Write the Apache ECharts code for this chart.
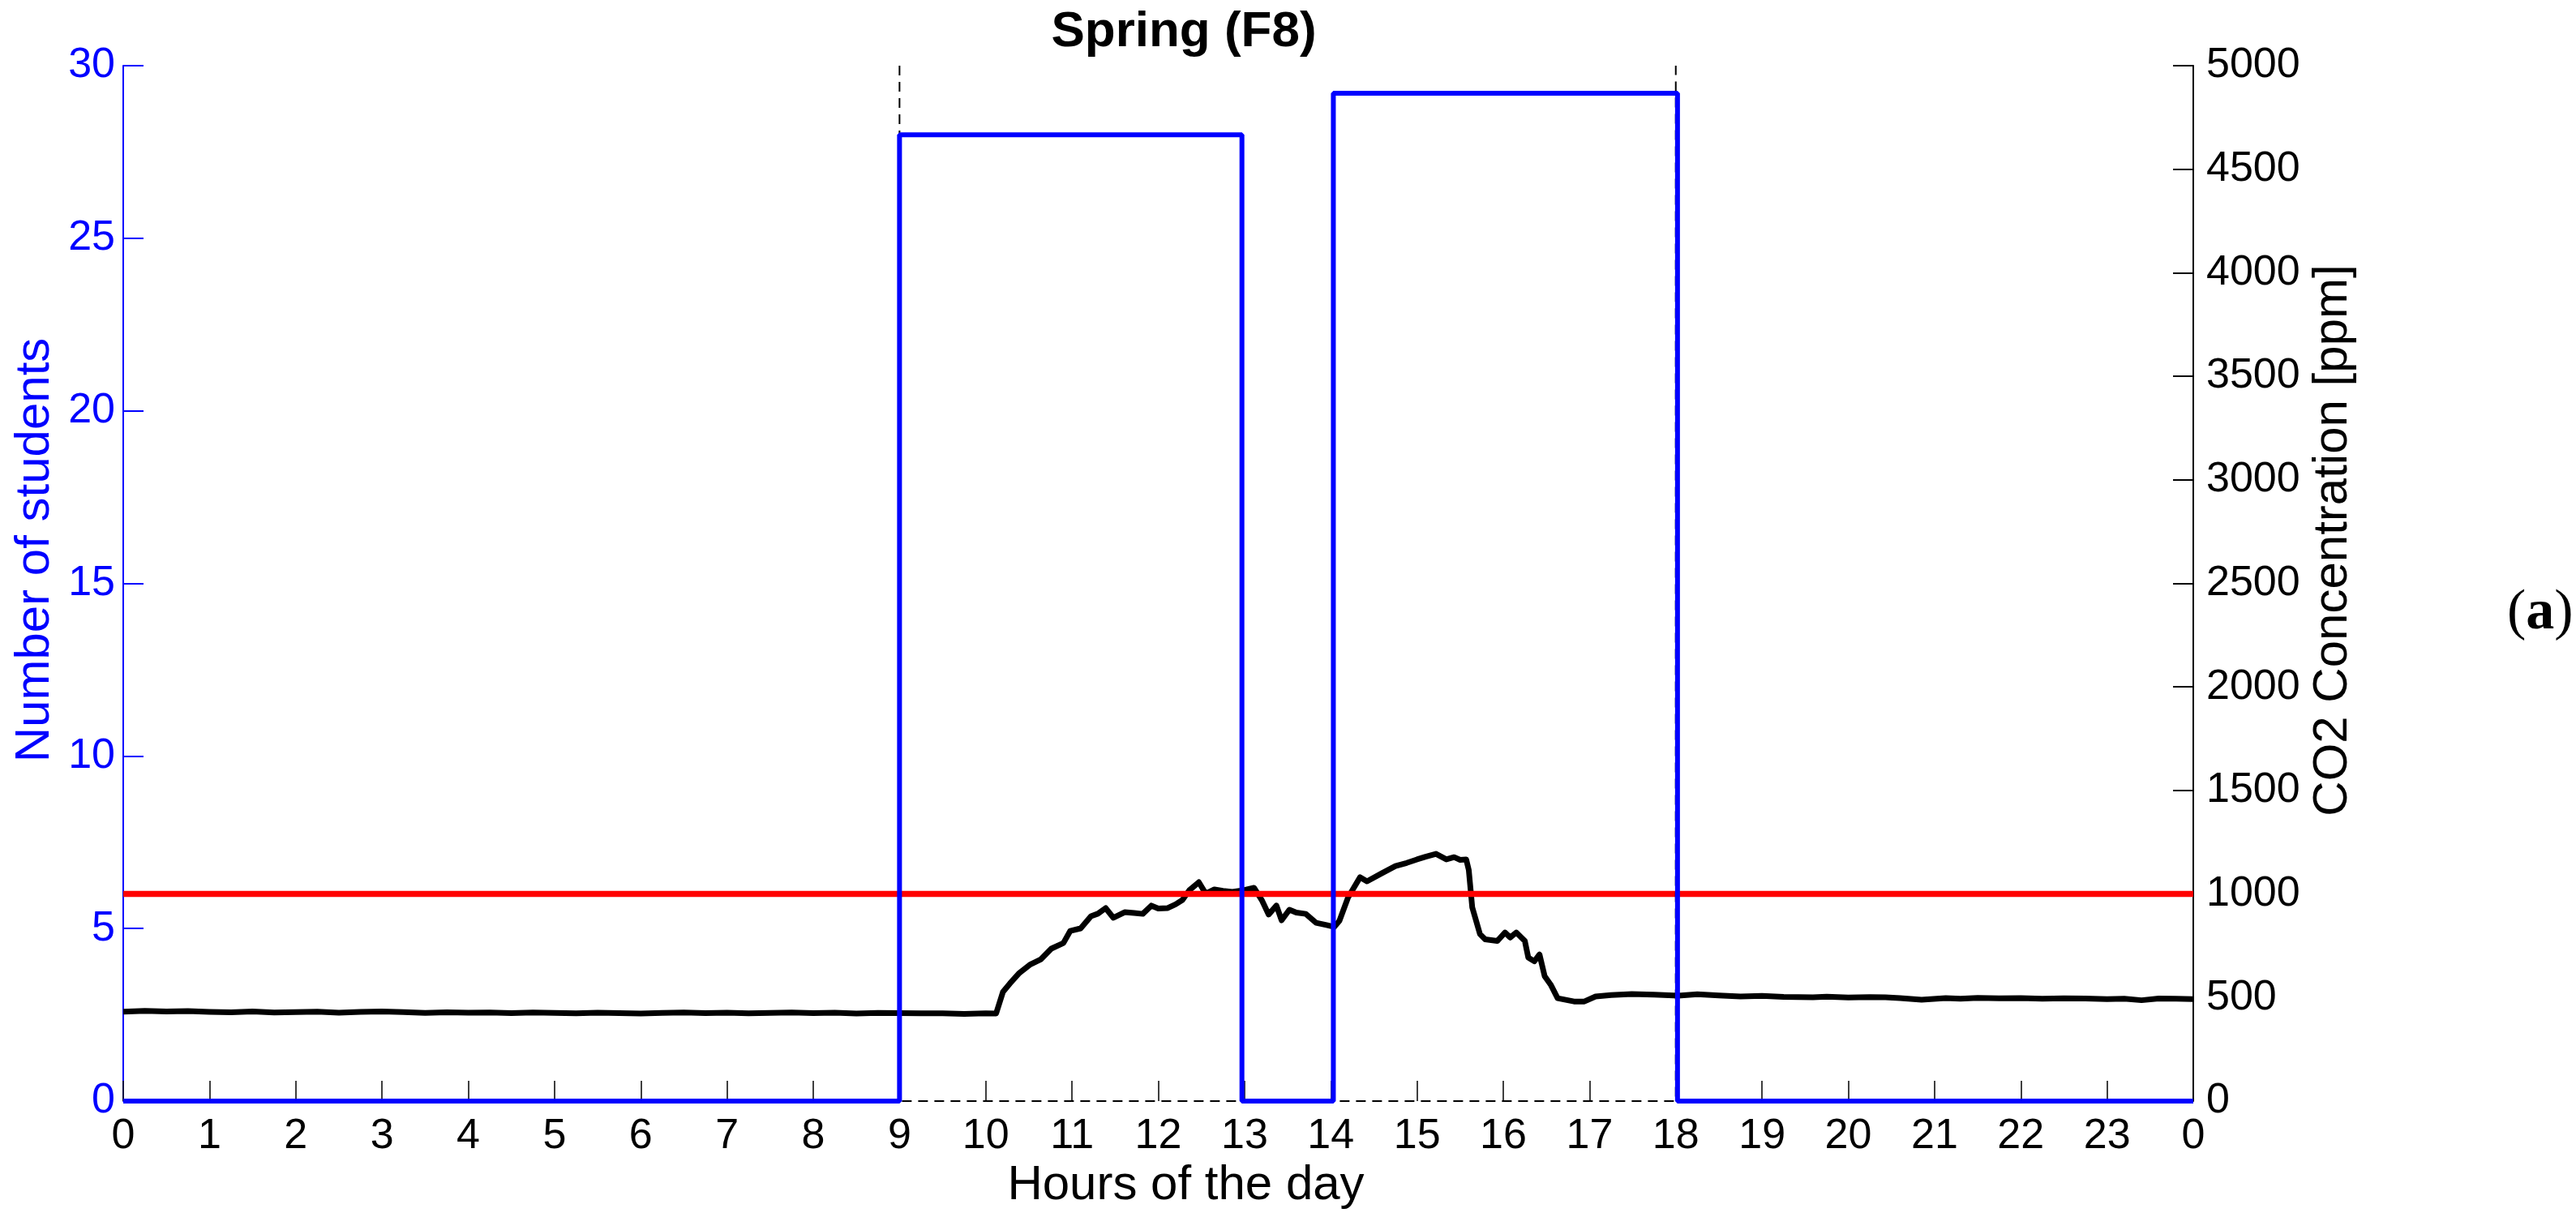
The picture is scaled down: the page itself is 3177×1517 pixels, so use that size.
<!DOCTYPE html>
<html>
<head>
<meta charset="utf-8">
<script src="https://cdn.jsdelivr.net/npm/echarts@6/dist/echarts.min.js"></script>
<style>
  html, body { margin: 0; padding: 0; background: #fff; }
  #chart { width: 3177px; height: 1517px; }
</style>
</head>
<body>
<div id="chart"></div>
<script>
// CO2 logger trace (hours, ppm)
const co2Hours = [
  0, 0.25, 0.5, 0.75, 1, 1.25, 1.5, 1.75, 2, 2.25, 2.5, 2.75, 3, 3.25, 3.5, 3.75,
  4, 4.25, 4.5, 4.75, 5, 5.25, 5.5, 5.75, 6, 6.25, 6.5, 6.75, 7, 7.25, 7.5, 7.75,
  8, 8.25, 8.5, 8.75, 9, 9.25, 9.5, 9.75, 10, 10.12, 10.2, 10.28, 10.39, 10.51,
  10.64, 10.76, 10.9, 10.98, 11.1, 11.22, 11.3, 11.39, 11.48, 11.61, 11.72, 11.82,
  11.92, 12, 12.11, 12.2, 12.28, 12.36, 12.47, 12.55, 12.65, 12.75, 12.86, 12.99,
  13.11, 13.2, 13.28, 13.37, 13.43, 13.52, 13.6, 13.71, 13.83, 13.95, 14.04, 14.1,
  14.2, 14.34, 14.42, 14.59, 14.75, 14.88, 15, 15.1, 15.22, 15.34, 15.43, 15.5,
  15.57, 15.6, 15.64, 15.73, 15.79, 15.93, 16.02, 16.08, 16.15, 16.25, 16.29, 16.36,
  16.42, 16.48, 16.55, 16.63, 16.82, 16.94, 17.07, 17.25, 17.49, 17.75, 18.03, 18.25,
  18.5, 18.75, 19, 19.25, 19.59, 19.75, 20, 20.25, 20.43, 20.6, 20.85, 21.13, 21.3,
  21.5, 21.75, 22, 22.25, 22.5, 22.75, 23, 23.2, 23.4, 23.6, 23.8, 24
]
const co2Ppm = [
  432, 436, 433, 435, 431, 429, 433, 428, 430, 432, 427, 431, 433, 430, 426, 429,
  427, 428, 425, 428, 426, 424, 427, 425, 423, 426, 428, 425, 427, 424, 426, 428,
  425, 427, 423, 426, 425, 424, 424, 421, 424, 423, 528, 568, 619, 658,
  685, 736, 763, 822, 834, 893, 905, 932, 885, 912, 908, 904,
  944, 930, 932, 950, 971, 1018, 1057, 1002, 1022, 1015, 1010, 1018,
  1030, 971, 901, 944, 873, 924, 910, 904, 861, 850, 841, 870,
  983, 1081, 1061, 1100, 1135, 1150, 1167, 1180, 1194, 1167, 1178, 1165,
  1167, 1116, 936, 806, 781, 773, 814, 790, 814, 773, 693, 675,
  708, 603, 562, 497, 481, 481, 505, 512, 517, 514, 509, 516,
  510, 505, 508, 503, 501, 504, 500, 502, 501, 497, 489, 497, 494,
  498, 496, 497, 494, 496, 495, 492, 494, 487, 495, 494, 492
]

// occupancy (number of students)
const occHours = [0, 9, 9, 12.97, 12.97, 14.03, 14.03, 18.02, 18.02, 24]
const occStudents = [0, 0, 28, 28, 0, 0, 29.2, 29.2, 0, 0]

// lesson schedule frame (dashed) on the students axis
const schedHours = [9, 9, 18, 18]
const schedStudents = [30, 0, 0, 30]

// 1000 ppm limit
const limitHours = [0, 24]
const limitPpm = [1000, 1000]

const pairs = (xs, ys) => xs.map((x, i) => [x, ys[i]])

const font = "'Liberation Sans', Arial, Helvetica, sans-serif"
const echart = echarts.init(document.getElementById('chart'), null, { renderer: 'canvas' })

const option = {
  animation: false,
  backgroundColor: '#fff',
  textStyle: { fontFamily: font },
  title: {
    text: 'Spring (F8)',
    left: 1455,
    top: 4,
    textAlign: 'center',
    textStyle: { fontFamily: font, fontSize: 62, fontWeight: 'bold', color: '#000' }
  },
  grid: {
    left: 152,
    right: 472,
    top: 81,
    bottom: 159
  },
  xAxis: {
    type: 'value',
    min: 0,
    max: 24,
    interval: 1,
    name: 'Hours of the day',
    nameLocation: 'middle',
    nameGap: 72,
    // label sits a little right of the axis centre in the original
    nameTextStyle: { fontFamily: font, fontSize: 60, color: '#000', padding: [0, 0, 0, 68] },
    axisLine: { show: false },
    axisTick: { show: true, inside: true, length: 25, lineStyle: { color: '#000', width: 1.5 } },
    axisLabel: {
      margin: 18,
      fontSize: 52,
      color: '#000',
      fontFamily: font,
      formatter: function (v) { return String(v % 24) }
    },
    splitLine: { show: false }
  },
  yAxis: [
    {
      type: 'value',
      min: 0,
      max: 30,
      interval: 5,
      position: 'left',
      name: 'Number of students',
      nameLocation: 'middle',
      nameGap: 76,
      nameTextStyle: { fontFamily: font, fontSize: 60, color: '#0000ff', padding: [0, 0, 0, 82] },
      axisLine: { show: true, lineStyle: { color: '#0000ff', width: 2 } },
      axisTick: { show: true, inside: true, length: 25, lineStyle: { color: '#0000ff', width: 2 } },
      axisLabel: { margin: 10, fontSize: 52, color: '#0000ff', fontFamily: font },
      splitLine: { show: false }
    },
    {
      type: 'value',
      min: 0,
      max: 5000,
      interval: 500,
      position: 'right',
      name: 'CO2 Concentration [ppm]',
      nameLocation: 'middle',
      nameGap: 110,
      nameTextStyle: { fontFamily: font, fontSize: 60, color: '#000', padding: [0, 0, 0, 106] },
      axisLine: { show: true, lineStyle: { color: '#000', width: 2 } },
      axisTick: { show: true, inside: true, length: 25, lineStyle: { color: '#000', width: 2 } },
      axisLabel: {
        margin: 16,
        fontSize: 52,
        color: '#000',
        fontFamily: font,
        formatter: function (v) { return String(v) }
      },
      splitLine: { show: false }
    }
  ],
  graphic: [
    {
      type: 'text',
      left: 3092,
      top: 722,
      style: {
        text: '({b|a})',
        font: "70px 'Liberation Serif', 'DejaVu Serif', serif",
        fill: '#000',
        rich: {
          b: { fontFamily: "'Liberation Serif', 'DejaVu Serif', serif", fontSize: 70, fontWeight: 'bold', fill: '#000' }
        }
      }
    }
  ],
  series: [
    {
      name: 'CO2',
      type: 'line',
      xAxisIndex: 0,
      yAxisIndex: 1,
      data: pairs(co2Hours, co2Ppm),
      showSymbol: false,
      z: 2,
      lineStyle: { color: '#000', width: 7, join: 'round' }
    },
    {
      name: 'limit',
      type: 'line',
      xAxisIndex: 0,
      yAxisIndex: 1,
      data: pairs(limitHours, limitPpm),
      showSymbol: false,
      z: 3,
      lineStyle: { color: '#ff0000', width: 7.5 }
    },
    {
      name: 'schedule',
      type: 'line',
      xAxisIndex: 0,
      yAxisIndex: 0,
      data: pairs(schedHours, schedStudents),
      showSymbol: false,
      z: 4,
      lineStyle: { color: '#000', width: 2, type: [12, 8] }
    },
    {
      name: 'students',
      type: 'line',
      xAxisIndex: 0,
      yAxisIndex: 0,
      data: pairs(occHours, occStudents),
      showSymbol: false,
      z: 5,
      lineStyle: { color: '#0000ff', width: 6 }
    }
  ]
}

echart.setOption(option)
</script>
</body>
</html>
